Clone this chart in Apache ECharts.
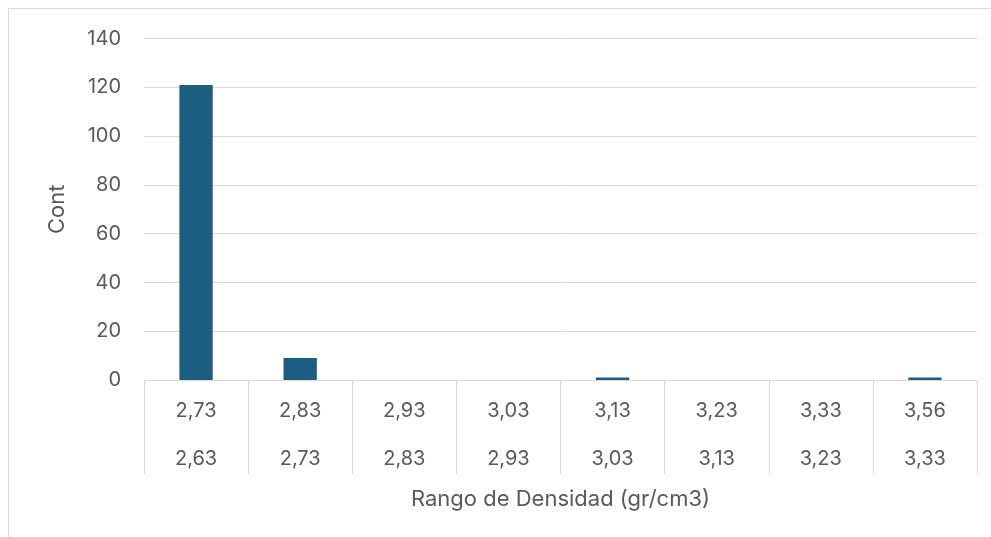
<!DOCTYPE html>
<html>
<head>
<meta charset="utf-8">
<script src="https://cdn.jsdelivr.net/npm/echarts@6/dist/echarts.min.js"></script>
<style>
  html, body { margin: 0; padding: 0; background: #fff; }
  #chart { width: 991px; height: 537px; }
</style>
</head>
<body>
<div id="chart"></div>
<script>
// límites superior e inferior de cada rango
const upperLimits = ['2,73', '2,83', '2,93', '3,03', '3,13', '3,23', '3,33', '3,56']
const lowerLimits = ['2,63', '2,73', '2,83', '2,93', '3,03', '3,13', '3,23', '3,33']
const counts = [121, 9, 0, 0, 1, 0, 0, 1]
const yTicks = [0, 20, 40, 60, 80, 100, 120, 140]

const categories = upperLimits.map((u, i) => u + '|' + lowerLimits[i])
const font = 'Inter, "Liberation Sans", sans-serif'

const chart = echarts.init(document.getElementById('chart'))
const option = {
  animation: false,
  textStyle: { fontFamily: font },
  graphic: [{
    type: 'rect',
    shape: { x: 8.5, y: 8.5, width: 990, height: 540 },
    style: { fill: 'none', stroke: '#d9d9d9', lineWidth: 1 },
    silent: true
  }],
  grid: { left: 144, right: 14, top: 38.7, bottom: 157 },
  xAxis: {
    type: 'category',
    data: categories,
    name: 'Rango de Densidad (gr/cm3)',
    nameLocation: 'middle',
    nameGap: 106,
    nameTextStyle: { color: '#595959', fontSize: 22, fontFamily: font },
    axisLine: { show: true, lineStyle: { color: '#d9d9d9', width: 1 } },
    axisTick: { show: true, length: 94, lineStyle: { color: '#d9d9d9', width: 1 } },
    axisLabel: {
      margin: 7,
      interval: 0,
      color: '#595959',
      fontSize: 20,
      lineHeight: 48,
      fontFamily: font,
      formatter: function (v) {
        const p = v.split('|')
        return p[0] + '\n' + p[1]
      }
    }
  },
  yAxis: {
    type: 'value',
    min: yTicks[0],
    max: yTicks[yTicks.length - 1],
    interval: 20,
    name: 'Cont',
    nameLocation: 'middle',
    nameGap: 76,
    nameRotate: 90,
    nameTextStyle: { color: '#595959', fontSize: 22, fontFamily: font },
    axisLine: { show: false },
    axisTick: { show: false },
    axisLabel: { margin: 23, color: '#595959', fontSize: 20, fontFamily: font },
    splitLine: { lineStyle: { color: '#d9d9d9', width: 1 } }
  },
  series: [{
    type: 'bar',
    data: counts,
    barWidth: '32%',
    itemStyle: { color: '#1b5e82' }
  }]
}
chart.setOption(option)
</script>
</body>
</html>
